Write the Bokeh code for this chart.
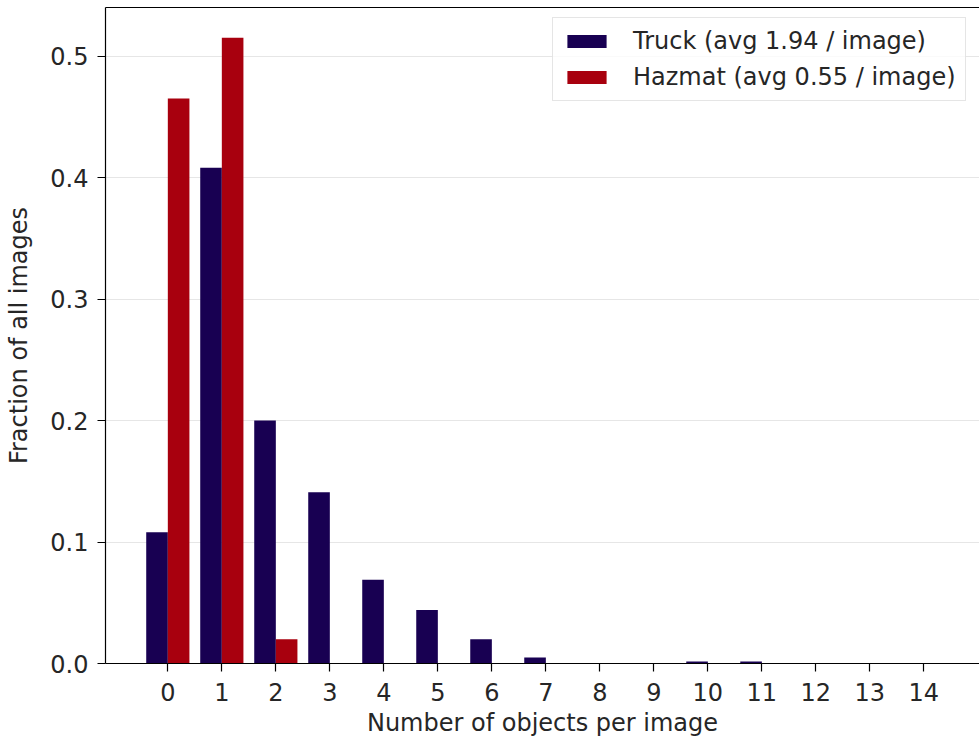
from bokeh.plotting import figure
from bokeh.models import (ColumnDataSource, Range1d, FixedTicker, LinearAxis,
                          Legend, LegendItem)
from bokeh.embed import file_html
from bokeh.resources import INLINE

# Share of images containing a given number of objects
counts = list(range(15))
truck_frac = [0.108, 0.408, 0.200, 0.141, 0.069, 0.044, 0.020, 0.005,
              0.0, 0.0, 0.0017, 0.0017, 0.0, 0.0, 0.0]
hazmat_frac = [0.465, 0.515, 0.020, 0.0, 0.0, 0.0, 0.0, 0.0,
               0.0, 0.0, 0.0, 0.0, 0.0, 0.0, 0.0]
truck_label = "Truck (avg 1.94 / image)"
hazmat_label = "Hazmat (avg 0.55 / image)"
y_ticks = [0.0, 0.1, 0.2, 0.3, 0.4, 0.5]

TRUCK_COLOR = "#180052"
HAZMAT_COLOR = "#a8000e"
FONT = "DejaVu Sans"
FONT_SIZE = "24px"
BAR_W = 0.4

src = ColumnDataSource(dict(
    n=counts,
    truck_x=[c - BAR_W / 2 for c in counts],
    hazmat_x=[c + BAR_W / 2 for c in counts],
    truck=truck_frac,
    hazmat=hazmat_frac,
))

p = figure(width=979, height=742, output_backend="svg", toolbar_location=None,
           x_range=Range1d(-1.154, 15.03), y_range=Range1d(0, 0.54),
           min_border_left=105, min_border_right=0, min_border_top=7,
           min_border_bottom=79)
p.outline_line_color = None
p.background_fill_color = "white"
p.border_fill_color = "white"

r_truck = p.vbar(x="truck_x", top="truck", width=BAR_W, source=src,
                 fill_color=TRUCK_COLOR, line_color=None)
r_hazmat = p.vbar(x="hazmat_x", top="hazmat", width=BAR_W, source=src,
                  fill_color=HAZMAT_COLOR, line_color=None)

# grid
p.xgrid.grid_line_color = None
p.ygrid.ticker = FixedTicker(ticks=y_ticks)
p.ygrid.grid_line_color = "#e6e6e6"
p.ygrid.grid_line_width = 1

# axes
for ax in (p.xaxis[0], p.yaxis[0]):
    ax.axis_line_color = "black"
    ax.axis_line_width = 1.2
    ax.major_tick_line_color = "black"
    ax.major_tick_line_width = 1.2
    ax.major_tick_in = 0
    ax.major_tick_out = 8
    ax.minor_tick_line_color = None
    ax.major_label_text_font = FONT
    ax.major_label_text_font_size = FONT_SIZE
    ax.major_label_text_color = "#262626"
    ax.axis_label_text_font = FONT
    ax.axis_label_text_font_size = FONT_SIZE
    ax.axis_label_text_font_style = "normal"
    ax.axis_label_text_color = "#262626"

p.xaxis.ticker = FixedTicker(ticks=counts)
p.xaxis.major_label_standoff = 11
p.xaxis.axis_label = "Number of objects per image"
p.xaxis.axis_label_standoff = 5

p.yaxis.ticker = FixedTicker(ticks=y_ticks)
p.yaxis.major_label_overrides = {t: f"{t:.1f}" for t in y_ticks}
p.yaxis.major_label_standoff = 9
p.yaxis.axis_label = "Fraction of all images"
p.yaxis.axis_label_standoff = 14

# top spine
top = LinearAxis(ticker=FixedTicker(ticks=[]), axis_line_color="black",
                 axis_line_width=1.2, major_tick_out=0, major_tick_in=0,
                 minor_tick_out=0, minor_tick_in=0,
                 major_label_text_font_size="0px")
p.add_layout(top, "above")

legend = Legend(items=[LegendItem(label=truck_label, renderers=[r_truck]),
                       LegendItem(label=hazmat_label, renderers=[r_hazmat])],
                location=(447, 562), orientation="vertical")
legend.label_text_font = FONT
legend.label_text_font_size = FONT_SIZE
legend.label_text_color = "#262626"
legend.glyph_width = 49
legend.glyph_height = 16
legend.label_standoff = 22
legend.label_height = 24
legend.spacing = 8
legend.padding = 9
legend.margin = 0
legend.border_line_color = "#cccccc"
legend.border_line_width = 1
legend.background_fill_color = "white"
legend.background_fill_alpha = 0.8
p.add_layout(legend, "center")

open("out.html", "w").write(file_html(p, INLINE))
